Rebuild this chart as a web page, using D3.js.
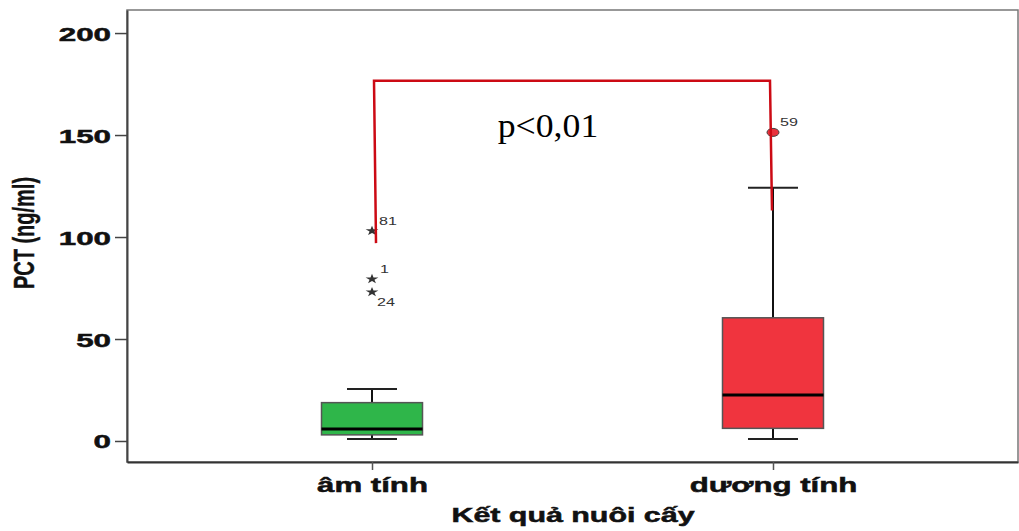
<!DOCTYPE html>
<html>
<head>
<meta charset="utf-8">
<script src="https://cdn.jsdelivr.net/npm/d3@7"></script>
<style>
  body { margin: 0; background: #fff; }
  svg { display: block; }
</style>
</head>
<body>
<div id="chart"></div>
<script>
// groups and their box stats
const groups = ["âm tính", "dương tính"];
const q1 = [3, 6.2];
const medians = [5.9, 22.5];
const q3 = [18.8, 60.4];
const whiskLow = [1, 1];
const whiskHigh = [25.5, 124.2];
const boxColors = ["#2fb64a", "#f0343e"];

// outliers: group index, value, case label, kind
const outGroup = [0, 0, 0, 1];
const outValue = [103, 79.4, 73, 151.3];
const outLabel = ["81", "1", "24", "59"];
const outKind = ["extreme", "extreme", "extreme", "outlier"];

const yTicks = [0, 50, 100, 150, 200];

// significance bracket
const bracketTop = 176.6;
const bracketEnds = [97, 113];
const pText = "p<0,01";

const width = 1019, height = 531;
const frame = {left: 127, top: 10, right: 1018, bottom: 462};
const sans = "Liberation Sans, Arial, sans-serif";

const svg = d3.select("#chart").append("svg")
    .attr("width", width)
    .attr("height", height);

const x = d3.scalePoint()
    .domain(groups)
    .range([frame.left, frame.right])
    .padding(0.611);

const y = d3.scaleLinear()
    .domain([-10.3, 211.3])
    .range([frame.bottom, frame.top]);

const boxW = 101, capW = 50;

// frame
svg.append("rect")
    .attr("x", frame.left).attr("y", frame.top)
    .attr("width", frame.right - frame.left)
    .attr("height", frame.bottom - frame.top)
    .attr("fill", "none")
    .attr("stroke", "#777")
    .attr("stroke-width", 1.5);

// y axis
const yAxis = svg.append("g")
    .attr("transform", `translate(${frame.left},0)`)
    .call(d3.axisLeft(y).tickValues(yTicks).tickSize(12).tickSizeOuter(0).tickPadding(0));
yAxis.select(".domain").attr("stroke", "#444").attr("stroke-width", 2);
yAxis.selectAll(".tick line").attr("stroke", "#444").attr("stroke-width", 1.5);
yAxis.selectAll(".tick text")
    .attr("x", null).attr("dy", null)
    .attr("transform", `translate(-16,7) scale(1.65,1)`)
    .attr("font-family", sans)
    .attr("font-weight", "bold")
    .attr("font-size", 19)
    .attr("fill", "#111")
    .attr("stroke", "#111")
    .attr("stroke-width", 0.5);

// x axis
const xAxis = svg.append("g")
    .attr("transform", `translate(0,${frame.bottom})`)
    .call(d3.axisBottom(x).tickSize(8).tickSizeOuter(0).tickPadding(0));
xAxis.select(".domain").attr("stroke", "#333").attr("stroke-width", 2);
xAxis.selectAll(".tick line").attr("stroke", "#555").attr("stroke-width", 1.5);
xAxis.selectAll(".tick text")
    .attr("y", null).attr("dy", null)
    .attr("transform", `translate(0,30) scale(1.56,1)`)
    .attr("font-family", sans)
    .attr("font-weight", "bold")
    .attr("font-size", 20)
    .attr("fill", "#111")
    .attr("stroke", "#111")
    .attr("stroke-width", 0.5);

// axis titles
svg.append("text")
    .attr("transform", `translate(573,522) scale(1.52,1)`)
    .attr("text-anchor", "middle")
    .attr("font-family", sans)
    .attr("font-weight", "bold")
    .attr("font-size", 20)
    .attr("fill", "#111")
    .attr("stroke", "#111")
    .attr("stroke-width", 0.5)
    .text("Kết quả nuôi cấy");

svg.append("text")
    .attr("transform", `translate(34,233) scale(1.45,1) rotate(-90)`)
    .attr("text-anchor", "middle")
    .attr("font-family", sans)
    .attr("font-weight", "bold")
    .attr("font-size", 20)
    .attr("fill", "#111")
    .attr("stroke", "#111")
    .attr("stroke-width", 0.3)
    .text("PCT (ng/ml)");

// boxes
const boxes = svg.append("g").selectAll("g")
    .data(groups)
    .enter()
    .append("g");

boxes.append("line")
    .attr("x1", d => x(d)).attr("x2", d => x(d))
    .attr("y1", (d, i) => y(whiskHigh[i]))
    .attr("y2", (d, i) => y(whiskLow[i]))
    .attr("stroke", "#111").attr("stroke-width", 2);

boxes.selectAll(".cap")
    .data((d, i) => [whiskLow[i], whiskHigh[i]].map(v => ({g: d, v: v})))
    .enter()
    .append("line")
    .attr("x1", d => x(d.g) - capW / 2).attr("x2", d => x(d.g) + capW / 2)
    .attr("y1", d => y(d.v)).attr("y2", d => y(d.v))
    .attr("stroke", "#222").attr("stroke-width", 2);

boxes.append("rect")
    .attr("x", d => x(d) - boxW / 2)
    .attr("y", (d, i) => y(q3[i]))
    .attr("width", boxW)
    .attr("height", (d, i) => y(q1[i]) - y(q3[i]))
    .attr("fill", (d, i) => boxColors[i])
    .attr("stroke", "#555")
    .attr("stroke-width", 1.5);

boxes.append("line")
    .attr("x1", d => x(d) - boxW / 2).attr("x2", d => x(d) + boxW / 2)
    .attr("y1", (d, i) => y(medians[i])).attr("y2", (d, i) => y(medians[i]))
    .attr("stroke", "#000").attr("stroke-width", 3);

// outliers
const outliers = outValue.map((v, i) => ({
    g: groups[outGroup[i]], v: v, label: outLabel[i], kind: outKind[i]
}));

const star = d3.symbol().type(d3.symbolStar).size(30);
svg.append("g").selectAll("path")
    .data(outliers.filter(d => d.kind === "extreme"))
    .enter()
    .append("path")
    .attr("d", star)
    .attr("transform", d => `translate(${x(d.g)},${y(d.v)}) scale(1.3,1)`)
    .attr("fill", "#333");

svg.append("g").selectAll("ellipse")
    .data(outliers.filter(d => d.kind === "outlier"))
    .enter()
    .append("ellipse")
    .attr("cx", d => x(d.g)).attr("cy", d => y(d.v))
    .attr("rx", 6).attr("ry", 4)
    .attr("fill", "#e8323c")
    .attr("stroke", "#444")
    .attr("stroke-width", 1);

// case labels: "24" sits below its star, the rest above right
svg.append("g").selectAll("text")
    .data(outliers)
    .enter()
    .append("text")
    .attr("transform", d => {
        const dx = d.label === "24" ? 5 : (d.label === "1" ? 8 : 7);
        const dy = d.label === "24" ? 14 : -6;
        return `translate(${x(d.g) + dx},${y(d.v) + dy}) scale(1.4,1)`;
    })
    .attr("font-family", sans)
    .attr("font-size", 11.5)
    .attr("fill", "#333")
    .text(d => d.label);

// significance bracket
const bx0 = x(groups[0]) + 2, bx1 = x(groups[1]) - 3;
svg.append("path")
    .attr("d", d3.line()([
        [bx0 + 2, y(bracketEnds[0])],
        [bx0, y(bracketTop)],
        [bx1, y(bracketTop)],
        [bx1 + 2, y(bracketEnds[1])]
    ]))
    .attr("fill", "none")
    .attr("stroke", "#cc0a14")
    .attr("stroke-width", 2.5);

svg.append("text")
    .attr("transform", `translate(${(bx0 + bx1) / 2 - 24},137) scale(1.05,1)`)
    .attr("text-anchor", "middle")
    .attr("font-family", "Liberation Serif, Times New Roman, serif")
    .attr("font-size", 34)
    .attr("fill", "#000")
    .text(pText);
</script>
</body>
</html>
